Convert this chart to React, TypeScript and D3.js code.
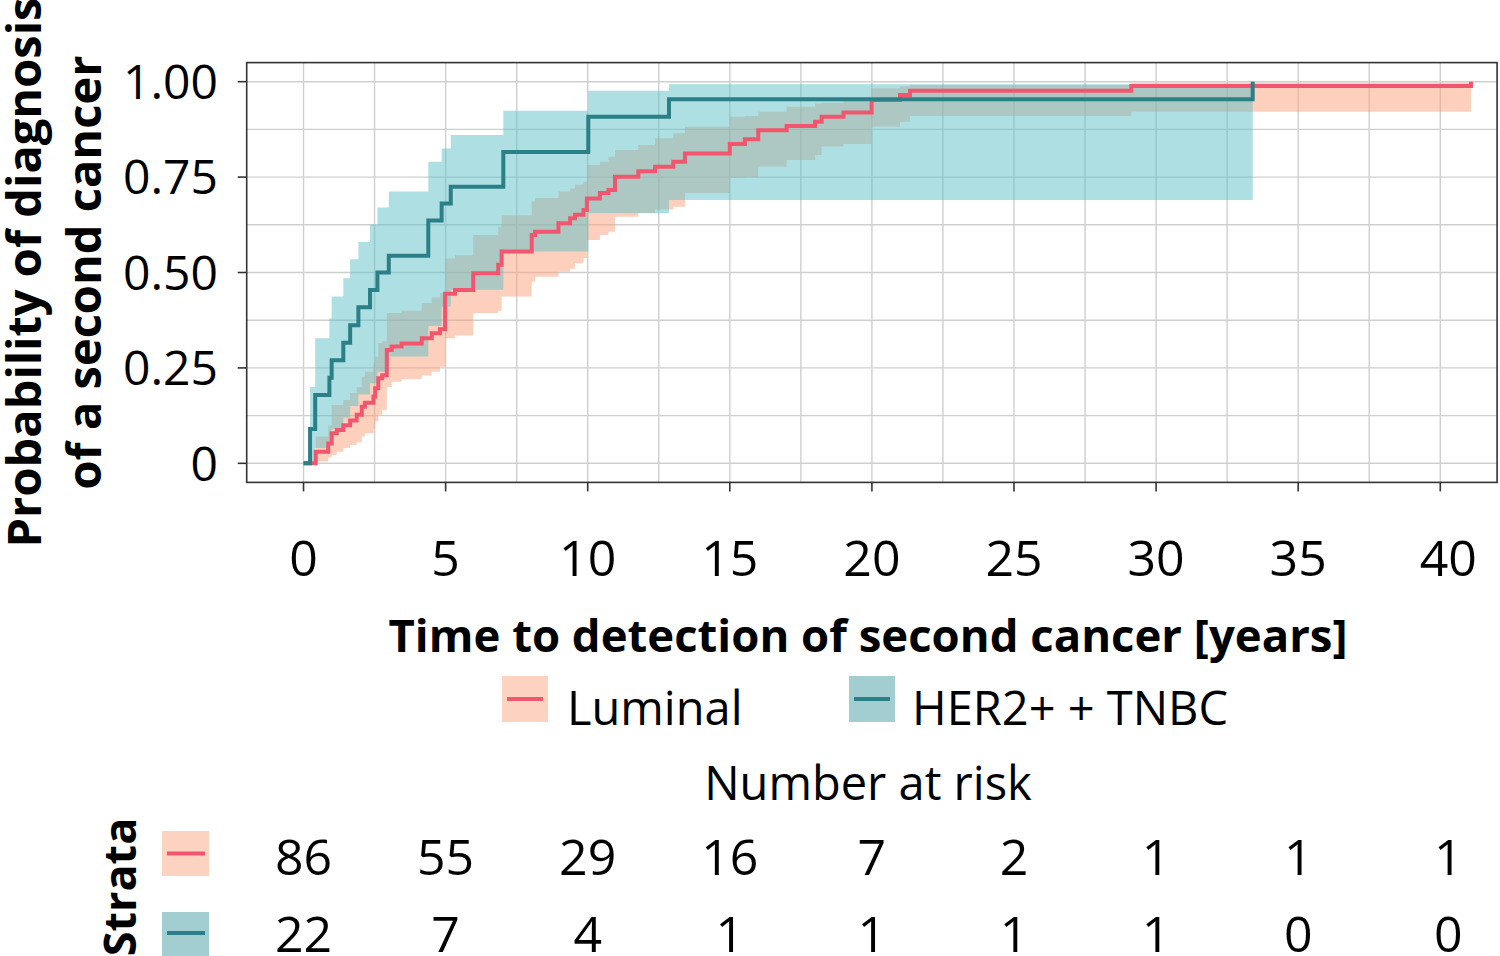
import * as d3 from 'd3'

// cumulative incidence
const lumTime = [0, 0.43, 0.87, 0.99, 1.17, 1.4, 1.64, 1.87, 2.05, 2.16, 2.46, 2.52, 2.63, 2.77, 2.93, 3.1, 3.45, 4.16, 4.51, 4.8, 4.98, 5.33, 5.97, 6.85, 6.97, 8.03, 8.15, 8.97, 9.38, 9.55, 9.85, 9.97, 10.43, 10.73, 10.96, 11.78, 12.37, 13.01, 13.42, 15.0, 15.53, 16.0, 17.0, 18.0, 18.23, 19.0, 19.99, 20.99, 21.34, 29.13, 41.08]
const lumEst = [0, 0.03, 0.052, 0.079, 0.087, 0.1, 0.112, 0.127, 0.148, 0.159, 0.175, 0.197, 0.223, 0.231, 0.297, 0.306, 0.314, 0.328, 0.341, 0.351, 0.444, 0.454, 0.498, 0.52, 0.555, 0.598, 0.607, 0.629, 0.642, 0.651, 0.664, 0.694, 0.708, 0.716, 0.751, 0.765, 0.777, 0.79, 0.812, 0.837, 0.849, 0.873, 0.884, 0.895, 0.908, 0.919, 0.952, 0.965, 0.976, 0.989, 1.0]
const lumLower = [0, 0.005, 0.015, 0.022, 0.03, 0.04, 0.048, 0.055, 0.07, 0.079, 0.09, 0.11, 0.127, 0.14, 0.2, 0.214, 0.22, 0.23, 0.24, 0.253, 0.328, 0.335, 0.394, 0.4, 0.437, 0.476, 0.489, 0.502, 0.51, 0.524, 0.538, 0.585, 0.598, 0.607, 0.646, 0.656, 0.665, 0.672, 0.708, 0.748, 0.75, 0.777, 0.795, 0.808, 0.83, 0.837, 0.882, 0.895, 0.91, 0.921, 0.921]
const lumUpper = [0, 0.07, 0.1, 0.153, 0.153, 0.166, 0.184, 0.2, 0.227, 0.24, 0.262, 0.28, 0.315, 0.32, 0.394, 0.394, 0.4, 0.42, 0.435, 0.446, 0.537, 0.545, 0.598, 0.62, 0.65, 0.686, 0.695, 0.712, 0.72, 0.73, 0.738, 0.782, 0.79, 0.803, 0.821, 0.834, 0.852, 0.865, 0.882, 0.908, 0.91, 0.921, 0.934, 0.943, 0.945, 0.952, 0.983, 0.988, 0.991, 0.997, 0.997]

const herTime = [0, 0.23, 0.41, 0.91, 0.99, 1.4, 1.64, 1.93, 2.34, 2.6, 3.0, 4.39, 4.86, 5.18, 7.03, 10.02, 12.86, 33.4]
const herEst = [0, 0.09, 0.179, 0.224, 0.27, 0.316, 0.362, 0.409, 0.454, 0.5, 0.544, 0.636, 0.681, 0.725, 0.816, 0.908, 0.954, 1.0]
const herLower = [0, 0.0, 0.04, 0.06, 0.09, 0.12, 0.15, 0.18, 0.21, 0.24, 0.28, 0.36, 0.41, 0.455, 0.555, 0.655, 0.69, 0.69]
const herUpper = [0, 0.2, 0.328, 0.38, 0.437, 0.485, 0.535, 0.58, 0.626, 0.67, 0.712, 0.79, 0.825, 0.86, 0.924, 0.976, 0.993, 0.993]

const riskTimes = [0, 5, 10, 15, 20, 25, 30, 35, 40]
const lumRisk = [86, 55, 29, 16, 7, 2, 1, 1, 1]
const herRisk = [22, 7, 4, 1, 1, 1, 1, 0, 0]

const yTicks = [0, 0.25, 0.5, 0.75, 1]
const yTickLabels = ['0', '0.25', '0.50', '0.75', '1.00']

const FONT = '"Open Sans", "Noto Sans", sans-serif'
const LUM_LINE = '#f2566e'
const LUM_FILL = '#f9a179'
const HER_LINE = '#2b7f87'
const HER_FILL = '#5dbfc7'

type Pt = { t: number; est: number; lo: number; hi: number }

function toPoints(time: number[], est: number[], lo: number[], hi: number[]): Pt[] {
  return time.map((t, i) => ({ t, est: est[i], lo: lo[i], hi: hi[i] }))
}

export default function App() {
  const width = 1500
  const height = 956
  const panel = { left: 246.7, right: 1497.1, top: 62.6, bottom: 482.4 }

  const x = d3.scaleLinear().domain([-2, 42]).range([panel.left, panel.right])
  const y = d3.scaleLinear().domain([-0.05, 1.05]).range([panel.bottom, panel.top])

  const lum = toPoints(lumTime, lumEst, lumLower, lumUpper)
  const her = toPoints(herTime, herEst, herLower, herUpper)

  const line = d3
    .line<Pt>()
    .x(d => x(d.t))
    .y(d => y(d.est))
    .curve(d3.curveStepAfter)

  const band = d3
    .area<Pt>()
    .x(d => x(d.t))
    .y0(d => y(d.lo))
    .y1(d => y(d.hi))
    .curve(d3.curveStepAfter)

  // the band stops at the last event, without the final jump
  const bandOf = (pts: Pt[]) => pts.slice(1)

  const xMajor = d3.range(0, 41, 5)
  const xMinor = d3.range(-2.5, 43, 5).filter(v => v > -2 && v < 42)
  const yMinor = [0.125, 0.375, 0.625, 0.875]

  const gridColor = '#cfcfcf'
  const labelNudge = (i: number) => (i === riskTimes.length - 1 ? 8 : 0)

  return (
    <svg
      width={width}
      height={height}
      viewBox={`0 0 ${width} ${height}`}
      style={{ position: 'absolute', left: 0, top: 0, background: '#fff' }}
      fontFamily={FONT}
    >
      <rect x={0} y={0} width={width} height={height} fill="#fff" />

      {/* grid */}
      {[...xMajor, ...xMinor].map(v => (
        <line key={`gx-${v}`} x1={x(v)} x2={x(v)} y1={panel.top} y2={panel.bottom} stroke={gridColor} strokeWidth={1.4} />
      ))}
      {[...yTicks, ...yMinor].map(v => (
        <line key={`gy-${v}`} x1={panel.left} x2={panel.right} y1={y(v)} y2={y(v)} stroke={gridColor} strokeWidth={1.4} />
      ))}

      {/* confidence bands */}
      <path d={band(bandOf(lum)) ?? ''} fill={LUM_FILL} fillOpacity={0.5} />
      <path d={band(bandOf(her)) ?? ''} fill={HER_FILL} fillOpacity={0.5} />

      {/* curves */}
      <path d={line(lum) ?? ''} fill="none" stroke={LUM_LINE} strokeWidth={4} />
      <path d={line(her) ?? ''} fill="none" stroke={HER_LINE} strokeWidth={4} />

      {/* panel border */}
      <rect
        x={panel.left}
        y={panel.top}
        width={panel.right - panel.left}
        height={panel.bottom - panel.top}
        fill="none"
        stroke="#333"
        strokeWidth={1.6}
      />

      {/* y axis */}
      {yTicks.map((v, i) => (
        <g key={`yt-${v}`}>
          <line x1={panel.left - 9} x2={panel.left} y1={y(v)} y2={y(v)} stroke="#333" strokeWidth={1.6} />
          <text x={218} y={y(v)} dy="0.36em" textAnchor="end" fontSize={48} fill="#000">
            {yTickLabels[i]}
          </text>
        </g>
      ))}

      {/* x axis */}
      {xMajor.map((v, i) => (
        <g key={`xt-${v}`}>
          <line x1={x(v)} x2={x(v)} y1={panel.bottom} y2={panel.bottom + 9} stroke="#333" strokeWidth={1.6} />
          <text x={x(v) + labelNudge(i)} y={576} textAnchor="middle" fontSize={50} fill="#000">
            {v}
          </text>
        </g>
      ))}

      <text x={868} y={652} textAnchor="middle" fontSize={45.5} fontWeight="bold" fill="#000">
        Time to detection of second cancer [years]
      </text>

      <g transform={`translate(0, ${(panel.top + panel.bottom) / 2}) rotate(-90)`}>
        <text x={0} y={41} textAnchor="middle" fontSize={47} fontWeight="bold" fill="#000">
          Probability of diagnosis
        </text>
        <text x={0} y={101} textAnchor="middle" fontSize={47} fontWeight="bold" fill="#000">
          of a second cancer
        </text>
      </g>

      {/* legend */}
      <g>
        <rect x={502} y={676} width={46} height={46} fill="#fcd3c0" />
        <line x1={507} x2={543} y1={699} y2={699} stroke={LUM_LINE} strokeWidth={4} />
        <text x={567} y={725} fontSize={47} fill="#000">Luminal</text>
        <rect x={849} y={676} width={46} height={46} fill="#a2ced2" />
        <line x1={854} x2={890} y1={699} y2={699} stroke={HER_LINE} strokeWidth={4} />
        <text x={912} y={725} fontSize={47} fill="#000">HER2+ + TNBC</text>
      </g>

      {/* risk table */}
      <text x={868} y={800} textAnchor="middle" fontSize={47} fill="#000">
        Number at risk
      </text>
      <g transform="translate(136, 887) rotate(-90)">
        <text x={0} y={0} textAnchor="middle" fontSize={45} fontWeight="bold" fill="#000">
          Strata
        </text>
      </g>
      <rect x={162} y={831} width={47} height={45} fill="#fcd3c0" />
      <line x1={167} x2={205} y1={853.5} y2={853.5} stroke={LUM_LINE} strokeWidth={4} />
      <rect x={162} y={912} width={47} height={45} fill="#a2ced2" />
      <line x1={167} x2={205} y1={933} y2={933} stroke={HER_LINE} strokeWidth={4} />
      {riskTimes.map((t, i) => (
        <g key={`risk-${t}`}>
          <text x={x(t) + labelNudge(i)} y={875} textAnchor="middle" fontSize={50} fill="#000">
            {lumRisk[i]}
          </text>
          <text x={x(t) + labelNudge(i)} y={951.5} textAnchor="middle" fontSize={50} fill="#000">
            {herRisk[i]}
          </text>
        </g>
      ))}
    </svg>
  )
}
